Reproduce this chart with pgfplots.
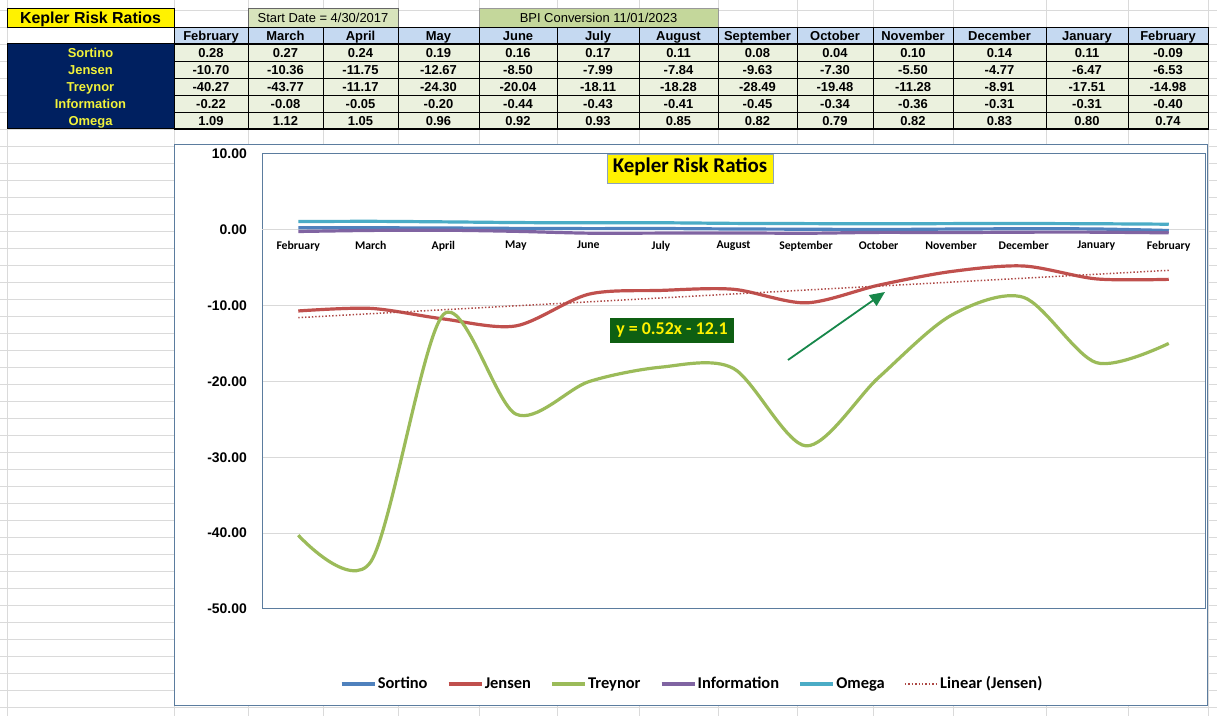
\documentclass[border=0pt]{standalone}
\usepackage{fontspec}
\setmainfont{Liberation Sans}
\newfontfamily\calibri{Carlito}
\usepackage{pgfplots}
\pgfplotsset{compat=1.18}
\usetikzlibrary{arrows.meta}

\definecolor{sheetgrid}{HTML}{DADADA}
\definecolor{navy}{HTML}{002060}
\definecolor{lblyellow}{HTML}{F2F23A}
\definecolor{hdrblue}{HTML}{C5D9F1}
\definecolor{cellgreen}{HTML}{EBF1DE}
\definecolor{startgreen}{HTML}{D8E4BC}
\definecolor{bpigreen}{HTML}{C4D79B}
\definecolor{framecol}{HTML}{5B7C9E}
\definecolor{plotgrid}{HTML}{D9D9D9}
\definecolor{sortino}{HTML}{4F81BD}
\definecolor{jensen}{HTML}{C0504D}
\definecolor{treynor}{HTML}{9BBB59}
\definecolor{information}{HTML}{8064A2}
\definecolor{omega}{HTML}{4BACC6}
\definecolor{eqgreen}{HTML}{0E5F12}
\definecolor{arrowgreen}{HTML}{17874A}

\newcommand{\fs}[1]{\fontsize{#1}{#1}\selectfont}

\begin{document}
\begin{tikzpicture}[x=1bp,y=1bp,cell/.style={anchor=base,inner sep=0pt}]
\useasboundingbox (0,0) rectangle (1217,716);
\fill[white] (0,0) rectangle (1217,716);

% spreadsheet grid
\foreach \c in {7,174,248,323,398,479,557,639,718,797,873,953,1046,1128,1208}
  \draw[sheetgrid,line width=0.8bp] (\c,0) -- (\c,716);
\foreach \k in {0,...,41}
  \draw[sheetgrid,line width=0.8bp] (0,{706-17*\k}) -- (1217,{706-17*\k});

% top boxes
\filldraw[fill=yellow,draw=black,line width=0.8bp] (7,708) rectangle (174,689);
\node[cell] at (90.5,692.8) {\fs{16}\bfseries Kepler Risk Ratios};
\filldraw[fill=startgreen,draw=black!60,line width=0.6bp] (248,708) rectangle (398,689);
\node[cell] at (323,693.9) {\fs{13}Start Date = 4/30/2017};
\filldraw[fill=bpigreen,draw=black!40,line width=0.6bp] (479,708) rectangle (718,689);
\node[cell] at (598.5,693.9) {\fs{13}BPI Conversion 11/01/2023};

% row labels
\fill[navy] (7,672) rectangle (174,587);
\foreach \n [count=\r from 0] in {Sortino,Jensen,Treynor,Information,Omega}
  \node[cell,text=lblyellow] at (90.5,{658.9-17*\r}) {\fs{13}\bfseries \n};

% table body
\foreach \l/\rr/\m/\a/\b/\c/\d/\e in {
  174/248/February/0.28/-10.70/-40.27/-0.22/1.09,
  248/323/March/0.27/-10.36/-43.77/-0.08/1.12,
  323/398/April/0.24/-11.75/-11.17/-0.05/1.05,
  398/479/May/0.19/-12.67/-24.30/-0.20/0.96,
  479/557/June/0.16/-8.50/-20.04/-0.44/0.92,
  557/639/July/0.17/-7.99/-18.11/-0.43/0.93,
  639/718/August/0.11/-7.84/-18.28/-0.41/0.85,
  718/797/September/0.08/-9.63/-28.49/-0.45/0.82,
  797/873/October/0.04/-7.30/-19.48/-0.34/0.79,
  873/953/November/0.10/-5.50/-11.28/-0.36/0.82,
  953/1046/December/0.14/-4.77/-8.91/-0.31/0.83,
  1046/1128/January/0.11/-6.47/-17.51/-0.31/0.80,
  1128/1208/February/-0.09/-6.53/-14.98/-0.40/0.74}{
  \filldraw[fill=hdrblue,draw=black,line width=0.8bp] (\l,689) rectangle (\rr,672);
  \node[cell] at ({(\l+\rr)/2},675.9) {\fs{13}\bfseries \m};
  \foreach \v [count=\r from 0] in {\a,\b,\c,\d,\e}{
    \filldraw[fill=cellgreen,draw=black,line width=0.8bp] (\l,{672-17*\r}) rectangle (\rr,{655-17*\r});
    \node[cell] at ({(\l+\rr)/2},{658.9-17*\r}) {\fs{13}\bfseries \v};
  }
}
\draw[black,line width=1bp] (7,587) rectangle (1208,672);

% chart area
\filldraw[fill=white,draw=framecol,line width=1bp] (174,571) rectangle (1207,10);

% frame, value axis and grid
\begin{axis}[
  at={(262bp,107bp)}, anchor=south west, scale only axis,
  width=943bp, height=455bp,
  xmin=-0.5, xmax=12.5, ymin=-50, ymax=10,
  xtick=\empty,
  ytick={-50,-40,-30,-20,-10,0,10},
  yticklabels={-50.00,-40.00,-30.00,-20.00,-10.00,0.00,10.00},
  ytick style={draw=none},
  yticklabel style={font=\fs{14}\bfseries, anchor=east, inner sep=0pt, xshift=-15bp},
  ymajorgrids, grid style={plotgrid,line width=1bp},
  axis line style={framecol,line width=1bp},
]
\end{axis}

% series and category axis at zero
\begin{axis}[
  at={(262bp,107bp)}, anchor=south west, scale only axis,
  width=943bp, height=455bp,
  xmin=-0.5, xmax=12.5, ymin=-50, ymax=10,
  axis x line=middle, axis y line=none,
  x axis line style={plotgrid,line width=1bp,-},
  xtick={0,...,12},
  xticklabels={February,March,April,May,June,July,August,September,October,November,December,January,February},
  xtick style={draw=none},
  xticklabel style={font=\calibri\fs{11.8}\bfseries, anchor=north, inner sep=0pt, yshift=-9bp},
  ytick=\empty,
  legend style={at={(axis description cs:0.456,-0.165)}, anchor=center, draw=none, fill=none,
    legend columns=-1, font=\calibri\fs{16.5}\bfseries,
    nodes={inner sep=1.5bp, text height=11.5bp, text depth=3.5bp},
    /tikz/every even column/.append style={column sep=18bp}},
  legend image code/.code={\draw[#1] (0bp,0bp) -- (33bp,0bp);},
]
\addplot[sortino,line width=3.2bp,smooth] coordinates {
  (0,0.28) (1,0.27) (2,0.24) (3,0.19) (4,0.16) (5,0.17) (6,0.11)
  (7,0.08) (8,0.04) (9,0.10) (10,0.14) (11,0.11) (12,-0.09)};
\addlegendentry{Sortino}
\addplot[jensen,line width=3.2bp,smooth] coordinates {
  (0,-10.70) (1,-10.36) (2,-11.75) (3,-12.67) (4,-8.50) (5,-7.99) (6,-7.84)
  (7,-9.63) (8,-7.30) (9,-5.50) (10,-4.77) (11,-6.47) (12,-6.53)};
\addlegendentry{Jensen}
\addplot[treynor,line width=3.2bp,smooth] coordinates {
  (0,-40.27) (1,-43.77) (2,-11.17) (3,-24.30) (4,-20.04) (5,-18.11) (6,-18.28)
  (7,-28.49) (8,-19.48) (9,-11.28) (10,-8.91) (11,-17.51) (12,-14.98)};
\addlegendentry{Treynor}
\addplot[information,line width=3.2bp,smooth] coordinates {
  (0,-0.22) (1,-0.08) (2,-0.05) (3,-0.20) (4,-0.44) (5,-0.43) (6,-0.41)
  (7,-0.45) (8,-0.34) (9,-0.36) (10,-0.31) (11,-0.31) (12,-0.40)};
\addlegendentry{Information}
\addplot[omega,line width=3.2bp,smooth] coordinates {
  (0,1.09) (1,1.12) (2,1.05) (3,0.96) (4,0.92) (5,0.93) (6,0.85)
  (7,0.82) (8,0.79) (9,0.82) (10,0.83) (11,0.80) (12,0.74)};
\addlegendentry{Omega}
\addplot[jensen!90!black,line width=1.5bp,dash pattern=on 1.4bp off 2bp] coordinates {
  (0,-11.58) (12,-5.34)};
\addlegendentry{Linear (Jensen)}
\end{axis}

% title, equation label and arrow
\node[fill=yellow,draw=framecol!70,line width=0.8bp,minimum width=166bp,minimum height=29bp,inner sep=0pt,
  text height=13bp,text depth=4bp]
  at (690,547.5) {\calibri\fs{21}\bfseries Kepler Risk Ratios};
\node[fill=eqgreen,text=yellow,minimum width=124bp,minimum height=25bp,inner sep=0pt,
  text height=11bp,text depth=2bp]
  at (672,385.5) {\calibri\fs{18}\bfseries y = 0.52x - 12.1};
\draw[arrowgreen,line width=1.8bp,-{Triangle[length=15bp,width=13bp]}] (788,356) -- (885,424);
\end{tikzpicture}
\end{document}
